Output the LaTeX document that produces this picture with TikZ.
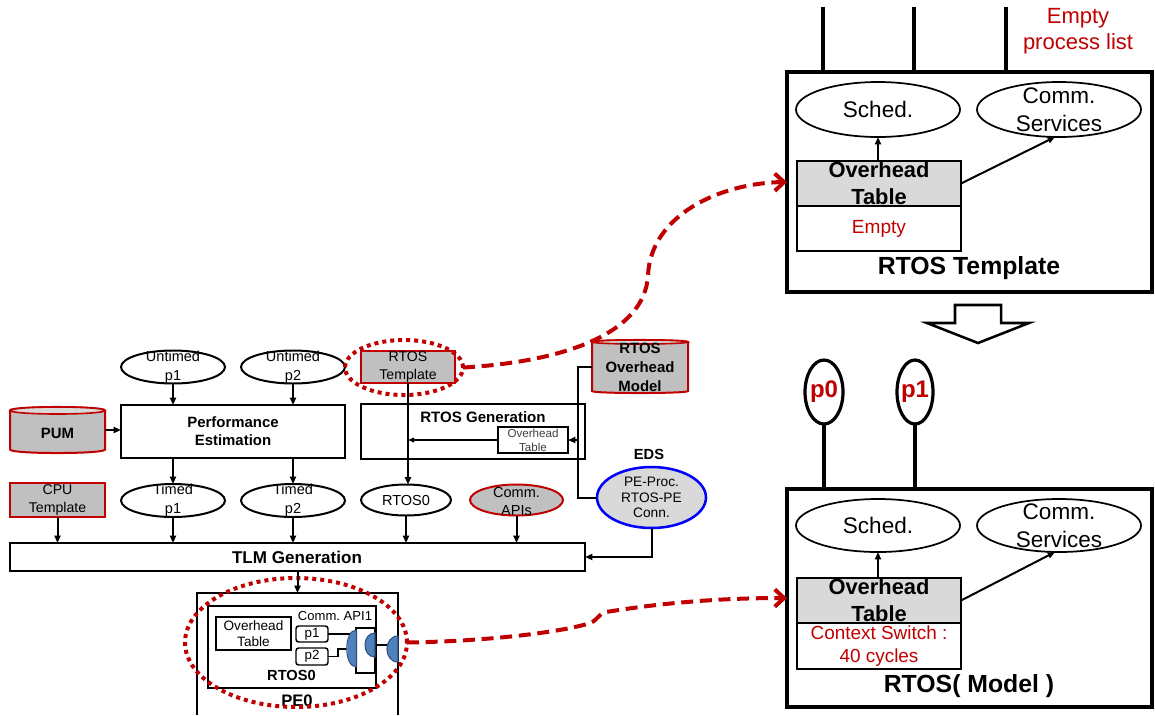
\documentclass[tikz,border=0pt]{standalone}
\usepackage{fontspec}
\setmainfont{Liberation Sans}
\usetikzlibrary{shapes.geometric,arrows.meta}
\definecolor{boxgray}{HTML}{C0C0C0}
\definecolor{tblgray}{HTML}{D9D9D9}
\definecolor{dred}{HTML}{C00000}
\definecolor{edsblue}{HTML}{0000FF}
\definecolor{portblue}{HTML}{4F81BD}
\definecolor{portedge}{HTML}{2F4F7F}
\newcommand{\fs}[2]{\fontsize{#1}{#2}\selectfont}
\frenchspacing

\tikzset{
  sz/.style 2 args={minimum width=#1*0.75pt, minimum height=#2*0.75pt},
  base/.style={inner sep=0pt, outer sep=0pt},
  lbox/.style={base, rectangle, draw, line width=1.5pt, fill=white},
  thinbox/.style={base, rectangle, draw, line width=1.1pt, fill=white},
  tplbox/.style={base, rectangle, draw=dred, line width=1.5pt, fill=boxgray},
  ell/.style={base, ellipse, draw, line width=1.5pt, fill=white},
  bigbox/.style={base, rectangle, draw, line width=2.4pt},
  bigell/.style={base, ellipse, draw, line width=1.3pt, fill=white},
  txt/.style={base, align=center},
  arr/.style={line width=1.5pt, -{Triangle[length=5.5pt,width=4.5pt]}},
  tarr/.style={line width=1.1pt, -{Triangle[length=4.5pt,width=3.5pt]}},
  wire/.style={line width=1.5pt},
  thinwire/.style={line width=1pt},
  stem/.style={line width=2.4pt},
  cylbody/.style={draw=dred, line width=1.5pt, fill=boxgray},
  cyltop/.style={draw=dred, line width=1.2pt, fill=tblgray},
  dotsel/.style={base, ellipse, draw=dred, line width=3pt, dash pattern=on 3pt off 3pt},
  dasharr/.style={draw=dred, line width=3pt, dash pattern=on 9pt off 5pt,
    -{Straight Barb[length=7pt,width=13pt]}},
  port/.style={fill=portblue, draw=portedge, line width=0.8pt},
}

\begin{document}
\begin{tikzpicture}[x=0.75pt, y=-0.75pt]
\useasboundingbox (0,0) rectangle (1155,715);

% ---------------- design flow (left) ----------------
% untimed processes
\node[ell, sz={104}{33}] (up1) at (173,367) {};
\node[txt, font=\fs{10.9}{14.3}] (up1-t) at (up1) {Untimed\\p1};
\node[ell, sz={104}{33}] (up2) at (293,367) {};
\node[txt, font=\fs{10.9}{14.3}] (up2-t) at (up2) {Untimed\\p2};

% RTOS template database entry
\node[tplbox, sz={94}{32}] (rtpl) at (408,367) {};
\node[txt, font=\fs{10.6}{13.5}] (rtpl-t) at (rtpl) {RTOS\\Template};
\node[dotsel, sz={118}{55}] (tsel) at (404,367.5) {};

% RTOS overhead model (cylinder)
\path[cylbody] (592,342) -- (592,391) .. controls (592,393.7) and (688,393.7) .. (688,391)
  -- (688,342) .. controls (688,339.3) and (592,339.3) .. (592,342) -- cycle;
\draw[cyltop] (640,342) ellipse [x radius=48, y radius=2];
\node[base, sz={96}{53}] (rom) at (640,366.5) {};
\node[txt, font=\bfseries\fs{11.2}{14.25}] (rom-t) at (640,367) {RTOS\\Overhead\\Model};

% PUM (cylinder)
\path[cylbody] (10,410.5) -- (10,449.5) .. controls (10,454.2) and (105,454.2) .. (105,449.5)
  -- (105,410.5) .. controls (105,405.8) and (10,405.8) .. (10,410.5) -- cycle;
\draw[cyltop] (57.5,410.5) ellipse [x radius=47.5, y radius=3.5];
\node[base, sz={95}{46}] (pum) at (57.5,430) {};
\node[txt, font=\bfseries\fs{11.2}{13.5}] (pum-t) at (57.5,433) {PUM};

% estimation and generation steps
\node[lbox, sz={224}{53}] (perf) at (233,431.5) {};
\node[txt, font=\bfseries\fs{11.2}{13.5}] (perf-t) at (perf) {Performance\\Estimation};

\node[lbox, sz={224}{55}] (rgen) at (473,431.5) {};
\node[txt, font=\bfseries\fs{11.3}{13.5}] (rgen-t) at (483,417) {RTOS Generation};
\node[thinbox, sz={70}{26}] (oht) at (533,440) {};
\node[txt, font=\fs{8.7}{10.5}, text=black!75] (oht-t) at (oht) {Overhead\\Table};

% timed processes and RTOS instance
\node[ell, sz={104}{33}] (tp1) at (173,500.5) {};
\node[txt, font=\fs{10.9}{14.3}] (tp1-t) at (tp1) {Timed\\p1};
\node[ell, sz={104}{33}] (tp2) at (293,500.5) {};
\node[txt, font=\fs{10.9}{14.3}] (tp2-t) at (tp2) {Timed\\p2};
\node[ell, sz={90}{31}] (rtos0) at (406,500) {};
\node[txt, font=\fs{10.9}{13}] (rtos0-t) at (rtos0) {RTOS0};
\node[ell, sz={93}{31}, draw=dred, fill=boxgray] (capi) at (516.5,500) {};
\node[txt, font=\fs{10.9}{13.5}] (capi-t) at (516.5,501) {Comm.\\APIs};
\node[tplbox, sz={95}{34}] (cpu) at (57.5,500) {};
\node[txt, font=\fs{10.6}{13.5}] (cpu-t) at (cpu) {CPU\\Template};

% EDS connection data
\node[base, ellipse, draw=edsblue, line width=1.9pt, fill=tblgray, sz={109}{61}] (eds) at (651.5,497.5) {};
\node[txt, font=\fs{10.3}{11.6}] (eds-t) at (eds) {PE-Proc.\\RTOS-PE\\Conn.};
\node[txt, font=\bfseries\fs{11}{13}] (eds-l) at (649,454) {EDS};

% TLM generation
\node[lbox, sz={575}{28}] (tlm) at (297.5,557) {};
\node[txt, font=\bfseries\fs{12.8}{15}] (tlm-t) at (297,557) {TLM Generation};

% generated PE model
\node[base, sz={201}{122}] (pe0) at (297.5,654) {};
\draw[wire] (pe0.south west) -- (pe0.north west) -- (pe0.north east) -- (pe0.south east);
\node[txt, font=\bfseries\fs{12.5}{15}] (pe0-t) at (297,701) {PE0};
\node[lbox, sz={168}{82}] (rtosbox) at (292,647) {};
\node[txt, font=\bfseries\fs{11}{13}] (rtosbox-t) at (291.5,675) {RTOS0};
\node[thinbox, sz={75}{33}] (ohtb) at (253.5,633.5) {};
\node[txt, font=\fs{10.2}{12}] (ohtb-t) at (ohtb) {Overhead\\Table};
\node[txt, font=\fs{9.8}{12}] (api-t) at (335,616) {Comm. API1};
\node[thinbox, rounded corners=2pt, sz={32}{16}] (p1b) at (312,634) {};
\node[txt, font=\fs{10}{12}] (p1b-t) at (p1b) {p1};
\node[thinbox, rounded corners=2pt, sz={32}{17}] (p2b) at (312,656.5) {};
\node[txt, font=\fs{10}{12}] (p2b-t) at (p2b) {p2};
\node[thinbox, sz={19}{45}] (apibox) at (365.5,650.5) {};
\draw[thinwire] (p1b.east) -- (350,634);
\draw[thinwire] (p2b.east) -- (338,656.5) -- (338,649) -- (347,649);
\draw[thinwire] (375,645) -- (388,645);
\path[port] (356.5,630) .. controls (343.5,630) and (343.5,667) .. (356.5,667) -- cycle;
\path[port] (375,633) .. controls (361.7,633) and (361.7,657) .. (375,657) -- cycle;
\path[port] (398,636) .. controls (383.3,636) and (383.3,662) .. (398,662) -- cycle;
\node[dotsel, sz={222}{129}] (pesel) at (296,642.5) {};

% flow connectors
\draw[arr] (up1.south) -- (up1.south |- perf.north);
\draw[arr] (up2.south) -- (up2.south |- perf.north);
\draw[arr] (pum.east) -- (perf.west |- pum.east);
\draw[arr] (tp1.north |- perf.south) -- (tp1.north);
\draw[arr] (tp2.north |- perf.south) -- (tp2.north);
\draw[arr] (rtpl.south) -- (rtpl.south |- rtos0.north);
\draw[tarr] (oht.west) -- (oht.west -| rtpl.south);
\coordinate (jx) at (578,440);
\draw[wire] (rom.west) -| (jx) |- (eds.west);
\draw[arr] (jx) -- (oht.east);
\draw[arr] (cpu.south) -- (cpu.south |- tlm.north);
\draw[arr] (tp1.south) -- (tp1.south |- tlm.north);
\draw[arr] (tp2.south) -- (tp2.south |- tlm.north);
\draw[arr] (rtos0.south) -- (rtos0.south |- tlm.north);
\draw[arr] (capi.south) -- (capi.south |- tlm.north);
\draw[arr] (eds.south) |- (tlm.east);
\draw[arr] (tlm.south -| pe0.north) -- (pe0.north);

% ---------------- RTOS template (top right) ----------------
\node[bigbox, sz={365}{220}] (tbox) at (969.5,182) {};
\coordinate (s1) at (823,7);
\coordinate (s2) at (914,7);
\coordinate (s3) at (1006,7);
\draw[stem] (s1) -- (s1 |- tbox.north);
\draw[stem] (s2) -- (s2 |- tbox.north);
\draw[stem] (s3) -- (s3 |- tbox.north);
\node[txt, font=\fs{16.5}{19.5}, text=dred] (epl) at (1078,31) {Empty\\process list};
\node[bigell, sz={164}{55}] (sch1) at (878,109.5) {};
\node[txt, font=\fs{16.9}{20}] (sch1-t) at (sch1) {Sched.};
\node[bigell, sz={164}{55}] (cs1) at (1059,109.5) {};
\node[txt, font=\fs{16.9}{21}] (cs1-t) at (cs1) {Comm.\\Services};
\node[lbox, fill=tblgray, sz={164}{45}] (ot1) at (879,183.5) {};
\node[txt, font=\bfseries\fs{16.4}{20}] (ot1-t) at (ot1) {Overhead\\Table};
\node[lbox, sz={164}{45}] (oe1) at (879,228.5) {};
\node[txt, font=\fs{14.3}{17}, text=dred] (oe1-t) at (oe1) {Empty};
\node[txt, font=\bfseries\fs{18.6}{22}] (tbox-t) at (969,268) {RTOS Template};
\draw[arr] (ot1.north -| sch1.south) -- (sch1.south);
\draw[arr] (ot1.east) -- (1055,137);

% refinement arrow
\draw[line width=1.9pt, fill=white] (955,305) -- (1001,305) -- (1001,323) -- (1029,323)
  -- (978,343) -- (927,323) -- (955,323) -- cycle;

% ---------------- RTOS model (bottom right) ----------------
\node[bigbox, sz={365}{218}] (mbox) at (969.5,598) {};
\node[base, ellipse, draw, line width=2.4pt, fill=white, sz={38}{64}] (p0) at (824,392) {};
\node[txt, font=\bfseries\fs{18}{20}, text=dred] (p0-t) at (p0) {p0};
\node[base, ellipse, draw, line width=2.4pt, fill=white, sz={36}{64}] (p1) at (915,392) {};
\node[txt, font=\bfseries\fs{18}{20}, text=dred] (p1-t) at (p1) {p1};
\draw[stem] (p0.south) -- (p0.south |- mbox.north);
\draw[stem] (p1.south) -- (p1.south |- mbox.north);
\node[bigell, sz={164}{53}] (sch2) at (878,525.5) {};
\node[txt, font=\fs{16.9}{20}] (sch2-t) at (sch2) {Sched.};
\node[bigell, sz={164}{53}] (cs2) at (1059,525.5) {};
\node[txt, font=\fs{16.9}{21}] (cs2-t) at (cs2) {Comm.\\Services};
\node[lbox, fill=tblgray, sz={164}{45}] (ot2) at (879,600.5) {};
\node[txt, font=\bfseries\fs{16.4}{20}] (ot2-t) at (ot2) {Overhead\\Table};
\node[lbox, sz={164}{46}] (oe2) at (879,646) {};
\node[txt, font=\fs{14.2}{17.25}, text=dred] (oe2-t) at (oe2) {Context Switch :\\40 cycles};
\node[txt, font=\bfseries\fs{18.6}{22}] (mbox-t) at (969,686) {RTOS( Model )};
\draw[arr] (ot2.north -| sch2.south) -- (sch2.south);
\draw[arr] (ot2.east) -- (1055,552);

% ---------------- highlighted correspondences ----------------
\draw[dasharr] (tsel.east) .. controls (560,362) and (645,335) .. (648,275)
  .. controls (651,215) and (720,183) .. (tbox.west);
\draw[dasharr] (pesel.east) .. controls (500,641) and (570,630) .. (590,623)
  .. controls (598,620) and (598,614) .. (606,612)
  .. controls (680,600) and (740,598) .. (mbox.west);
\end{tikzpicture}
\end{document}
